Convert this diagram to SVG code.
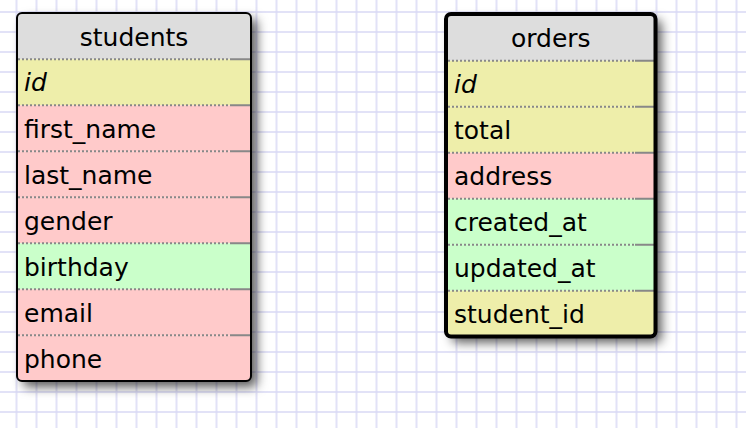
<svg xmlns="http://www.w3.org/2000/svg" width="746" height="428" viewBox="0 0 746 428">
<defs>
<pattern id="grid" patternUnits="userSpaceOnUse" x="6.5" y="2" width="20" height="20">
<path d="M10 0V20M0 10H20" stroke="#d9d9f5" stroke-width="1.5" fill="none"/>
</pattern>
<filter id="shadow" x="-15%" y="-15%" width="140%" height="140%">
<feDropShadow dx="6" dy="6" stdDeviation="5.5" flood-color="#000" flood-opacity="0.65"/>
</filter>
<clipPath id="clipS"><rect x="17" y="13" width="234" height="368" rx="5"/></clipPath>
<clipPath id="clipO"><rect x="446" y="14" width="209.5" height="322.5" rx="5"/></clipPath>
</defs>
<style>
.hd{fill:#dddddd}
.pk{fill:#ffcaca}
.yl{fill:#eeeeaa}
.gr{fill:#caffca}
.dot{stroke:#888;stroke-width:2;stroke-dasharray:2 2;fill:none}
.sol{stroke:#888;stroke-width:2;fill:none}
text{font-family:"DejaVu Sans",Verdana,sans-serif;font-size:25px;fill:#000}
.title{text-anchor:middle}
.it{font-style:italic}
</style>
<rect width="746" height="428" fill="#fff"/>
<rect width="746" height="428" fill="url(#grid)"/>

<g id="students">
<rect x="17" y="13" width="234" height="368" rx="5" fill="#fff" filter="url(#shadow)"/>
<g clip-path="url(#clipS)">
<rect class="hd" x="17" y="13" width="234" height="46.3"/>
<rect class="yl" x="17" y="59.3" width="234" height="46"/>
<rect class="pk" x="17" y="105.3" width="234" height="46"/>
<rect class="pk" x="17" y="151.3" width="234" height="46"/>
<rect class="pk" x="17" y="197.3" width="234" height="46"/>
<rect class="gr" x="17" y="243.3" width="234" height="46"/>
<rect class="pk" x="17" y="289.3" width="234" height="46"/>
<rect class="pk" x="17" y="335.3" width="234" height="46"/>
</g>
<path class="dot" d="M18 59.3H230M18 105.3H230M18 151.3H230M18 197.3H230M18 243.3H230M18 289.3H230M18 335.3H230"/>
<path class="sol" d="M230 59.3H250M230 105.3H250M230 151.3H250M230 197.3H250M230 243.3H250M230 289.3H250M230 335.3H250"/>
<rect x="17" y="13" width="234" height="368" rx="5" fill="none" stroke="#000" stroke-width="2"/>
<text class="title" x="134" y="45.5">students</text>
<text class="it" x="24" y="91">id</text>
<text x="24" y="138">first_name</text>
<text x="24" y="184">last_name</text>
<text x="24" y="230">gender</text>
<text x="24" y="276">birthday</text>
<text x="24" y="322">email</text>
<text x="24" y="368">phone</text>
</g>

<g id="orders">
<rect x="446" y="14" width="209.5" height="322.5" rx="5" fill="#fff" filter="url(#shadow)"/>
<g clip-path="url(#clipO)">
<rect class="hd" x="446" y="14" width="209.5" height="46.7"/>
<rect class="yl" x="446" y="60.7" width="209.5" height="46"/>
<rect class="yl" x="446" y="106.7" width="209.5" height="46"/>
<rect class="pk" x="446" y="152.7" width="209.5" height="46"/>
<rect class="gr" x="446" y="198.7" width="209.5" height="46"/>
<rect class="gr" x="446" y="244.7" width="209.5" height="46"/>
<rect class="yl" x="446" y="290.7" width="209.5" height="46"/>
</g>
<path class="dot" d="M448 60.7H635M448 106.7H635M448 152.7H635M448 198.7H635M448 244.7H635M448 290.7H635"/>
<path class="sol" d="M635 60.7H654M635 106.7H654M635 152.7H654M635 198.7H654M635 244.7H654M635 290.7H654"/>
<rect x="446" y="14" width="209.5" height="322.5" rx="5" fill="none" stroke="#000" stroke-width="4"/>
<text class="title" x="550.8" y="46.8">orders</text>
<text class="it" x="454" y="92.5">id</text>
<text x="454" y="139">total</text>
<text x="454" y="185">address</text>
<text x="454" y="231">created_at</text>
<text x="454" y="277">updated_at</text>
<text x="454" y="323">student_id</text>
</g>
<g id="connectors"></g>
</svg>
